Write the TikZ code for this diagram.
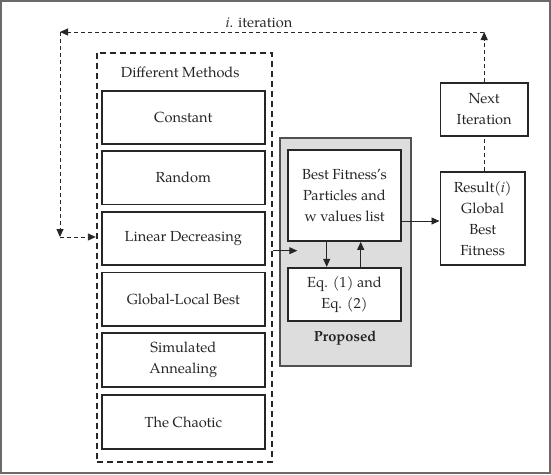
\documentclass[tikz,border=0pt]{standalone}
\usepackage{fontspec}
\setmainfont{TeX Gyre Pagella}
\usetikzlibrary{arrows.meta}
\definecolor{ink}{HTML}{262626}
\definecolor{framegray}{HTML}{6A6A6A}
\definecolor{shade}{HTML}{DDDDDD}
\begin{document}
\begin{tikzpicture}[x=1pt,y=-1pt,
  txt/.style={font=\fontsize{14.6}{21}\selectfont, text=ink, align=center},
  box/.style={txt, draw=ink, line width=1.7pt, inner sep=0pt, fill=white},
  grp/.style={draw=ink, line width=1.7pt, dash pattern=on 6pt off 4pt, inner sep=0pt},
  prop/.style={draw=ink!80, line width=1.7pt, fill=shade, inner sep=0pt},
  loopline/.style={draw=ink, line width=0.9pt, dash pattern=on 4pt off 3pt},
  tip/.style={-{Triangle[length=8pt,width=7pt]}},
  link/.style={draw=ink, line width=0.9pt, tip}
]
\useasboundingbox (0,0) rectangle (551,474);
\draw[line width=2pt, framegray] (1,1) rectangle (550,472.5);

% group of methods
\node[grp, minimum width=175.3pt, minimum height=409pt] (methods) at (184.3,257.2) {};
\node[txt] (mtitle) at (180.3,72) {Different Methods};
\node[box, minimum width=163.3pt, minimum height=53.6pt] (m1) at (183.3,117.5) {Constant};
\node[box, minimum width=163.3pt, minimum height=53.6pt] (m2) at (183.3,177.8) {Random};
\node[box, minimum width=163.3pt, minimum height=53.6pt] (m3) at (183.3,238.5) {Linear Decreasing};
\node[box, minimum width=163.3pt, minimum height=53.6pt] (m4) at (183.3,299.2) {Global-Local Best};
\node[box, minimum width=163.3pt, minimum height=53.6pt] (m5) at (183.3,360) {Simulated\\Annealing};
\node[box, minimum width=163.3pt, minimum height=53.6pt] (m6) at (183.3,422) {The Chaotic};

% proposed
\node[prop, minimum width=131pt, minimum height=228pt] (prop) at (345.5,252) {};
\node[box, minimum width=112.4pt, minimum height=91pt] (best) at (344.5,195.5) {Best Fitness’s\\Particles and\\w values list};
\node[box, minimum width=112.4pt, minimum height=53pt] (eq) at (344.5,294.2) {Eq. (1) and\\Eq. (2)};
\node[txt, font=\fontsize{14.6}{21}\selectfont\bfseries] (plabel) at (345,338) {Proposed};

% result and next iteration
\node[box, minimum width=84.7pt, minimum height=93pt] (result) at (482.7,218.8) {Result(\textit{i})\\Global\\Best\\Fitness};
\node[box, minimum width=87.7pt, minimum height=53.3pt] (next) at (484.2,109.3) {Next\\Iteration};

% connectors
\coordinate (c1) at (484.2,32);
\coordinate (c2) at (60,32);
\coordinate (c3) at (60,237);
\coordinate (pin) at (297.3,250.7);
\draw[loopline] (result.north -| next.south) -- (next.south);
\draw[loopline, tip] (next.north) -- (c1);
\draw[loopline, tip] (c1) -- (c2);
\draw[loopline, tip] (c2) -- (c3);
\draw[loopline, tip] (c3) -- (c3 -| methods.west);
\node[txt, anchor=base] (iter) at (259,27) {\textit{i}. iteration};

\draw[link] (methods.east |- pin) -- (pin);
\draw[link] (best.east |- 0,221) -- (result.west |- 0,221);
\draw[link] (best.south -| 326.7,0) -- (eq.north -| 326.7,0);
\draw[link] (eq.north -| 360.7,0) -- (best.south -| 360.7,0);
\end{tikzpicture}
\end{document}
